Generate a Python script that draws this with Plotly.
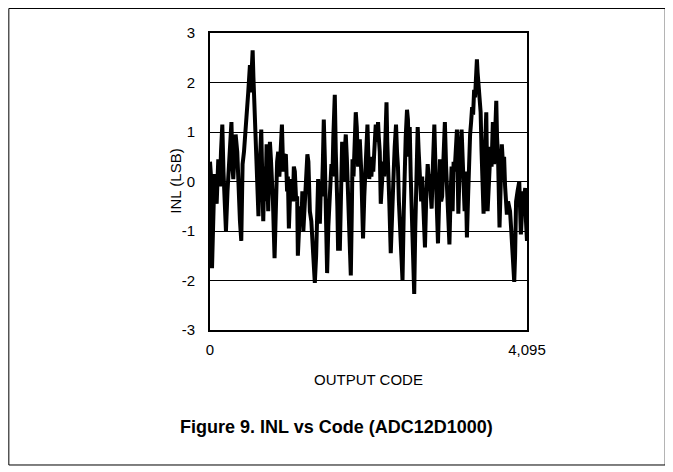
import plotly.graph_objects as go

# %% data
codes = [0, 13, 26, 43, 58, 71, 86, 107, 129, 142, 159, 174, 187, 206, 226, 249, 264, 277, 290, 301,
         316, 331, 352, 368, 387, 404, 421, 439, 451, 471, 494, 505, 516, 525, 538, 551, 561, 568, 580, 593,
         613, 626, 639, 651, 662, 675, 688, 704, 716, 731, 742, 752, 764, 774, 787, 796, 813, 834, 851, 867,
         881, 896, 909, 929, 946, 961, 980, 996, 1006, 1019, 1034, 1054, 1071, 1083, 1096, 1113, 1126, 1135, 1152, 1167,
         1180, 1193, 1206, 1225, 1247, 1258, 1271, 1290, 1309, 1328, 1354, 1371, 1384, 1397, 1406, 1419, 1432, 1445, 1458, 1470,
         1483, 1496, 1513, 1529, 1539, 1554, 1569, 1582, 1593, 1612, 1625, 1634, 1645, 1655, 1667, 1677, 1690, 1707, 1718, 1728,
         1741, 1754, 1767, 1784, 1799, 1819, 1832, 1841, 1854, 1870, 1883, 1896, 1913, 1925, 1935, 1954, 1967, 1977, 1993, 2006,
         2019, 2034, 2044, 2057, 2070, 2085, 2098, 2109, 2122, 2141, 2154, 2171, 2180, 2193, 2206, 2222, 2238, 2251, 2264, 2280,
         2290, 2303, 2316, 2335, 2348, 2361, 2373, 2386, 2403, 2416, 2428, 2440, 2457, 2487, 2503, 2515, 2528, 2545, 2557, 2567,
         2580, 2593, 2606, 2622, 2638, 2651, 2664, 2683, 2696, 2709, 2728, 2741, 2754, 2777, 2792, 2812, 2827, 2841, 2853, 2863,
         2879, 2898, 2911, 2924, 2945, 2960, 2971, 2986, 2999, 3012, 3034, 3050, 3063, 3076, 3093, 3108, 3121, 3134, 3147, 3160,
         3173, 3190, 3208, 3218, 3231, 3250, 3263, 3276, 3289, 3302, 3319, 3334, 3347, 3360, 3373, 3386, 3399, 3412, 3424, 3437,
         3448, 3457, 3470, 3483, 3496, 3508, 3521, 3534, 3547, 3569, 3586, 3605, 3625, 3637, 3654, 3670, 3683, 3698, 3708, 3721,
         3740, 3753, 3770, 3786, 3799, 3812, 3835, 3850, 3863, 3876, 3892, 3908, 3930, 3941, 3954, 3973, 3995, 4016, 4031, 4044,
         4057, 4072, 4082, 4095]
inl = [0.40, 0.10, -1.75, -1.0, 0.15, -0.2, -0.45, 0.45, -0.1, 0.6, 1.15, 0.2, -0.3, -1.0, -0.2, 0.35, 0.9, 1.2, 0.3, 0.05,
       0.5, 0.95, 0.6, -0.2, -0.8, -1.2, 0.35, 0.6, 0.95, 1.3, 1.8, 2.0, 2.35, 1.8, 2.3, 2.65, 2.1, 1.8, 1.3, 1.05,
       0.0, -0.7, 0.2, 0.6, 1.05, 0.1, -0.8, 0.3, -0.4, 0.75, 0.2, -0.6, 0.3, 0.8, 0.45, 0.2, -0.4, -1.55, -0.4, 0.4,
       0.6, 0.1, 0.5, 1.15, 0.2, 0.5, 0.55, -0.2, 0.1, -0.95, -0.3, 0.05, -0.4, 0.3, 0.2, -0.4, -0.3, -1.5, -0.9, -0.5,
       -0.9, -0.2, -1.0, -0.3, 0.55, 0.55, 0.4, -0.6, -0.8, -1.4, -2.05, -1.5, -0.2, 0.05, -0.4, -0.85, -0.1, -0.3, 0.4, 1.25,
       0.5, -0.6, -1.85, -0.9, -0.3, -0.1, 0.35, 0.1, 0.9, 1.75, 0.6, 0.2, -0.5, -1.4, -0.9, -1.4, -0.3, 0.8, 0.3, 0.0,
       0.6, 0.95, 0.5, -0.3, -1.0, -1.9, -0.6, 0.45, 0.1, 0.8, 1.4, 1.1, 0.3, 0.6, 0.85, 0.2, -0.4, -1.15, -0.3, 0.2,
       0.7, 1.15, 0.6, 0.05, 0.3, 0.1, 0.5, 0.2, 0.6, 1.15, 0.8, 1.2, 0.9, 0.6, -0.45, 0.2, 0.4, 0.1, 0.9, 1.6,
       0.8, 0.3, -0.4, -1.45, -0.6, -0.1, 0.2, 0.7, 1.15, 0.6, 0.3, -0.4, -1.2, -2.0, -0.6, 0.4, 0.9, 1.45, 1.25, 0.5,
       1.1, 0.1, -0.5, -1.4, -2.27, -1.0, 0.1, 1.1, 0.6, 0.2, -0.4, 0.1, -0.6, -1.33, -0.4, 0.35, 0.05, 0.15, -0.3, -0.55,
       0.3, 1.15, 0.4, -0.2, -1.25, -0.4, 0.45, -0.4, -0.3, 0.3, 1.2, 0.3, -0.2, -0.6, -1.27, -0.3, 0.3, -0.6, 0.4, 0.2,
       0.5, 1.05, -0.65, 0.2, 0.6, 1.05, 0.5, -0.1, -0.6, 0.2, -1.13, -0.3, 0.5, 0.95, 1.2, 1.5, 1.35, 1.85, 1.7, 2.1,
       2.47, 2.2, 1.9, 1.6, 1.4, 0.6, -0.2, -0.65, 0.4, 1.4, -0.6, 0.2, 0.7, 0.3, 1.2, 0.35, 0.8, 1.63, 0.9, 0.5,
       -0.93, 0.1, 0.75, 0.3, 0.5, -0.1, -0.67, -0.4, -0.55, -0.6, -1.0, -1.6, -2.03, -1.5, -0.4, -0.2, 0.0, -1.07, -0.5, -0.2,
       -0.35, -0.13, -0.8, -1.2]

y_ticks = [-3, -2, -1, 0, 1, 2, 3]
y_labels = ["-3", "-2", "-1", "0", "1", "2", "3"]
x_ticks = [0, 4095]
x_labels = ["0", "4,095"]

FONT = "Liberation Sans, Arial, sans-serif"

# %% figure
fig = go.Figure()
fig.add_trace(go.Scatter(x=codes, y=inl, mode="lines",
                         line=dict(color="black", width=4), showlegend=False))

# page body has an 8px margin, so everything is placed 8px up/left
fig.update_layout(
    width=673, height=472,
    margin=dict(l=202, r=153.5, t=25, b=150),
    paper_bgcolor="white", plot_bgcolor="white",
    font=dict(family=FONT, size=15, color="black"),
    xaxis=dict(range=[0, 4095], tickvals=x_ticks, ticktext=x_labels,
               showgrid=False, zeroline=False, showline=True, mirror=True,
               linecolor="black", linewidth=2, ticks="", ticklabelstandoff=5),
    yaxis=dict(range=[-3, 3], tickvals=y_ticks, ticktext=y_labels,
               showgrid=True, gridcolor="black", gridwidth=1,
               zeroline=False, showline=True, mirror=True,
               linecolor="black", linewidth=2, ticks="", ticklabelstandoff=10),
    annotations=[
        dict(text="OUTPUT CODE", x=0.5, y=-0.168, xref="paper", yref="paper",
             xanchor="center", yanchor="middle", showarrow=False, font=dict(size=15)),
        dict(text="INL (LSB)", x=-0.11, y=0.5, xref="paper", yref="paper",
             xanchor="center", yanchor="middle", showarrow=False, textangle=-90,
             font=dict(size=15)),
        dict(text="<b>Figure 9. INL vs Code (ADC12D1000)</b>", x=0.4, y=-0.327,
             xref="paper", yref="paper", xanchor="center", yanchor="middle",
             showarrow=False, font=dict(size=18)),
    ],
    shapes=[dict(type="rect", xref="paper", yref="paper",
                 x0=-0.6346, x1=1.436, y0=-0.4545, y1=1.0825,
                 line=dict(color="black", width=1))],
)

fig.write_html("out.html")
